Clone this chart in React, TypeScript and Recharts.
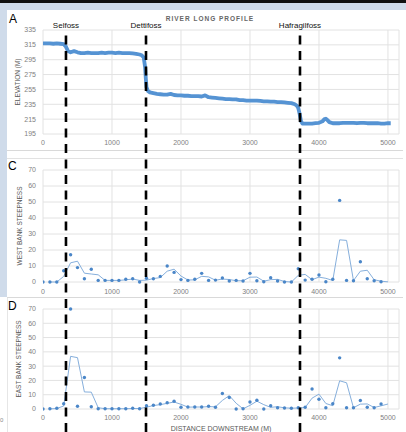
import React from 'react';
import { ComposedChart, Line, XAxis, YAxis, CartesianGrid, ReferenceLine } from 'recharts';

// ---------- data ----------
const profileDistance = [
  0, 50, 100, 150, 200, 250, 300, 330, 360, 400, 450, 500, 550, 600, 650, 700, 750, 800, 850, 900,
  950, 1000, 1050, 1100, 1150, 1200, 1250, 1300, 1350, 1400, 1430, 1460, 1480, 1490, 1500, 1520, 1550,
  1600, 1650, 1700, 1750, 1800, 1850, 1900, 1950, 2000, 2050, 2100, 2150, 2200, 2250, 2300, 2350, 2400,
  2450, 2500, 2550, 2600, 2650, 2700, 2750, 2800, 2850, 2900, 2950, 3000, 3050, 3100, 3150, 3200, 3250,
  3300, 3350, 3400, 3450, 3500, 3550, 3600, 3650, 3680, 3700, 3720, 3740, 3760, 3800, 3850, 3900, 3950,
  4000, 4050, 4080, 4100, 4120, 4150, 4200, 4250, 4300, 4350, 4400, 4450, 4500, 4550, 4600, 4650, 4700,
  4750, 4800, 4850, 4900, 4950, 5000, 5040,
];
const profileElevation = [
  317, 317, 317, 316.5, 317, 316.5, 316, 313, 307, 305, 306.5, 305, 304, 304, 304.5, 304, 304, 304, 304.5, 304,
  304.5, 304.5, 304, 304.5, 304, 304, 304, 303.5, 303, 302, 301, 298, 285, 270, 258, 253, 251,
  250, 249, 248.5, 248, 248, 249, 247.5, 247, 247, 246.5, 246.5, 246, 246, 246, 245.5, 247, 244.5,
  244, 243.5, 243, 242.5, 242, 242, 241.5, 241.5, 240.5, 240.5, 240, 240, 240, 240, 239.5, 239, 239,
  238.5, 238.5, 238, 238, 237.5, 237, 236.5, 235, 233, 230, 222, 212, 209, 209, 209, 209, 209.5,
  210, 212, 215, 215.5, 214, 211, 209.5, 209.5, 209.5, 210, 210, 210, 210, 209.5, 210, 210, 209.5,
  209.5, 209.5, 209.5, 209, 209, 209.5, 209.5,
];

const sampleDistance = [
  0, 100, 200, 300, 400, 500, 600, 700, 800, 900, 1000, 1100, 1200, 1300, 1400, 1500, 1600, 1700, 1800, 1900,
  2000, 2100, 2200, 2300, 2400, 2500, 2600, 2700, 2800, 2900, 3000, 3100, 3200, 3300, 3400, 3500, 3600, 3700,
  3800, 3900, 4000, 4100, 4200, 4300, 4400, 4500, 4600, 4700, 4800, 4900, 5000,
];
const westSteepness = [
  0, 0, 0, 7, 17, 9, 2, 8, 1, 1, 1, 1, 1.7, 2, 0, 2.3, 2, 3.5, 10, 6,
  1.5, 1, 1.7, 5.4, 1, 1.2, 2.5, 0.6, 1, 0.6, 5.4, 0.8, 0.2, 2.7, 0.6, 0, 0, 8.3,
  1.2, 1.7, 4.4, 0.2, 1.7, 51, 1, 0.8, 12.7, 2, 0.8, 0.2, null,
];
const westAverage = [
  null, 0, 0, 3.5, 12, 13, 5.5, 5, 4.5, 1, 1, 1, 1.35, 1.85, 1, 1.15, 2.15, 2.75, 6.75, 8,
  3.75, 1.25, 1.35, 3.55, 3.2, 1.1, 1.85, 1.55, 0.8, 0.8, 3, 3.1, 0.5, 1.45, 1.65, 0.3, 0, 4.15,
  4.75, 1.45, 3.05, 2.3, 0.95, 26.35, 26, 0.9, 6.75, 7.35, 1.4, 0.5, 0.1,
];
const eastSteepness = [
  0, 0.2, 0.5, 3.7, 70, 1.9, 22, 1.6, 0.2, 0.2, 0.2, 0.2, 0.2, 0.5, 0.2, 2.3, 2.6, 3.5, 4.4, 5.4,
  1.2, 1.4, 1.4, 1.4, 1.9, 1.2, 10.8, 8, 0, 0.2, 4.9, 6.1, 0, 2.3, 0.9, 0.7, 0.5, 0.9,
  1.2, 14, 6.8, 0.9, 3.7, 35.8, 0.9, 0.9, 5.9, 1.2, 0.9, 3.5, null,
];
const eastAverage = [
  null, 0.1, 0.35, 2.1, 36.85, 35.95, 11.95, 11.8, 0.9, 0.2, 0.2, 0.2, 0.2, 0.35, 0.35, 1.25, 2.45, 3.05, 3.95, 4.9,
  3.3, 1.3, 1.4, 1.4, 1.65, 1.55, 6, 9.4, 4, 0.1, 2.55, 5.5, 3.05, 1.15, 1.6, 0.8, 0.6, 0.7,
  1.05, 7.6, 10.4, 3.85, 2.3, 19.75, 18.35, 0.9, 3.4, 3.55, 1.05, 2.2, 3.5,
];

const waterfallNames = ['Selfoss', 'Dettifoss', 'Hafragilfoss'];
const waterfallDistance = [333, 1493, 3725];

const distanceTicks = [0, 1000, 2000, 3000, 4000, 5000];
const elevationTicks = [195, 215, 235, 255, 275, 295, 315, 335];
const steepnessTicks = [0, 10, 20, 30, 40, 50, 60, 70];

// ---------- tables ----------
const profileData = profileDistance.map((d, i) => ({ x: d, elevation: profileElevation[i] }));
const bankData = sampleDistance.map((d, i) => ({
  x: d,
  west: westSteepness[i],
  westAvg: westAverage[i],
  east: eastSteepness[i],
  eastAvg: eastAverage[i],
}));
const fallData = waterfallNames.map((n, i) => ({ name: n, x: waterfallDistance[i], level: 0.5 }));

// ---------- styles ----------
const W = 406;
const X_MAX = 5160;
const FONT = '"Liberation Sans", Arial, sans-serif';
const TICK = { fontSize: 7, fill: '#7f7f7f', fontFamily: FONT };
const GRID = '#e2e2e2';
const BLUE = '#5593d3';
const DOT = '#4a86c8';
const AVG = '#86afdc';
const AXIS_TITLE = { fontSize: 6.5, fill: '#595959', fontFamily: FONT, textAnchor: 'middle' as const };

const xAxisProps = (height: number, margin: number) => ({
  type: 'number' as const,
  dataKey: 'x',
  domain: [0, X_MAX] as [number, number],
  ticks: distanceTicks,
  allowDataOverflow: true,
  tickLine: false,
  axisLine: false,
  tickSize: 0,
  tickMargin: margin,
  height,
  tick: TICK,
  interval: 0 as const,
});

const abs = (s: React.CSSProperties): React.CSSProperties => ({ position: 'absolute', ...s });

export default function App() {
  return (
    <div style={abs({ left: 0, top: 0, width: W, height: 432, background: '#ffffff', overflow: 'hidden', fontFamily: FONT })}>
      {/* frame */}
      <div style={abs({ left: 0, top: 0, width: W, height: 3, background: '#111111' })} />
      <div style={abs({ left: 0, top: 3, width: W, height: 7, background: '#cfdbea' })} />
      <div style={abs({ left: 0, top: 3, width: 7, height: 294, background: '#cfdbea' })} />
      <div style={abs({ left: 7, top: 150, width: 396, height: 1, background: '#d9d9d9' })} />
      <div style={abs({ left: 7, top: 158, width: 396, height: 1, background: '#e2e2e2' })} />
      <div style={abs({ left: 7, top: 297, width: 396, height: 1, background: '#d9d9d9' })} />
      <div style={abs({ left: 7, top: 298, width: 1, height: 134, background: '#e6e6e6' })} />
      <div style={abs({ left: 0, top: 416, fontSize: 6, color: '#8a8a8a', lineHeight: '9px' })}>0</div>

      {/* Panel A */}
      <div style={abs({ left: 0, top: 0 })}>
        <ComposedChart width={W} height={150} data={profileData} margin={{ top: 30, right: 7, left: 0, bottom: 0 }}>
          <CartesianGrid stroke={GRID} />
          <XAxis {...xAxisProps(16, 6.5)} />
          <YAxis
            type="number"
            domain={[195, 335]}
            ticks={elevationTicks}
            width={43}
            tickLine={false}
            axisLine={false}
            tickSize={0}
            tickMargin={7}
            tick={TICK}
            interval={0}
            label={{ value: 'ELEVATION (M)', angle: -90, position: 'insideLeft', offset: 18, style: AXIS_TITLE }}
          />
          <Line dataKey="elevation" stroke={BLUE} strokeWidth={3.8} dot={false} isAnimationActive={false} strokeLinejoin="round" />
        </ComposedChart>
      </div>

      {/* Panel C */}
      <div style={abs({ left: 0, top: 150 })}>
        <ComposedChart width={W} height={147} data={bankData} margin={{ top: 20, right: 7, left: 0, bottom: 0 }}>
          <CartesianGrid stroke={GRID} />
          <XAxis {...xAxisProps(15, 7)} />
          <YAxis
            type="number"
            domain={[0, 70]}
            ticks={steepnessTicks}
            width={43}
            tickLine={false}
            axisLine={false}
            tickSize={0}
            tickMargin={7}
            tick={TICK}
            interval={0}
            label={{ value: 'WEST BANK STEEPNESS', angle: -90, position: 'insideLeft', offset: 20, style: AXIS_TITLE }}
          />
          <Line dataKey="westAvg" stroke={AVG} strokeWidth={1} dot={false} connectNulls isAnimationActive={false} />
          <Line dataKey="west" stroke="none" dot={{ r: 1.7, fill: DOT, stroke: 'none' }} isAnimationActive={false} />
        </ComposedChart>
      </div>

      {/* Panel D */}
      <div style={abs({ left: 0, top: 297 })}>
        <ComposedChart width={W} height={135} data={bankData} margin={{ top: 12, right: 7, left: 0, bottom: 0 }}>
          <CartesianGrid stroke={GRID} />
          <XAxis
            {...xAxisProps(23, 6)}
            label={{ value: 'DISTANCE DOWNSTREAM (M)', position: 'insideBottom', offset: 1.5, style: { ...AXIS_TITLE, fontSize: 7 } }}
          />
          <YAxis
            type="number"
            domain={[0, 70]}
            ticks={steepnessTicks}
            width={43}
            tickLine={false}
            axisLine={false}
            tickSize={0}
            tickMargin={7}
            tick={TICK}
            interval={0}
            label={{ value: 'EAST BANK STEEPNESS', angle: -90, position: 'insideLeft', offset: 18.5, style: AXIS_TITLE }}
          />
          <Line dataKey="eastAvg" stroke={AVG} strokeWidth={1} dot={false} connectNulls isAnimationActive={false} />
          <Line dataKey="east" stroke="none" dot={{ r: 1.7, fill: DOT, stroke: 'none' }} isAnimationActive={false} />
        </ComposedChart>
      </div>

      {/* Waterfall overlay */}
      <div style={abs({ left: 0, top: 0, pointerEvents: 'none' })}>
        <ComposedChart width={W} height={432} data={fallData} margin={{ top: 31, right: 7, left: 43, bottom: 0 }}>
          <XAxis type="number" dataKey="x" domain={[0, X_MAX]} hide allowDataOverflow />
          <YAxis type="number" domain={[0, 1]} hide />
          <Line dataKey="level" stroke="none" dot={false} isAnimationActive={false} />
          {fallData.map((f) => (
            <ReferenceLine
              key={f.name}
              x={f.x}
              ifOverflow="visible"
              stroke="#000000"
              strokeWidth={2.6}
              strokeDasharray="9 6.5"
              label={{ value: f.name, position: 'top', offset: 3, fill: '#111111', fontSize: 8, fontFamily: FONT }}
            />
          ))}
        </ComposedChart>
      </div>

      {/* titles */}
      <div style={abs({ left: 150, top: 15, width: 120, textAlign: 'center', fontSize: 6.5, fontWeight: 700, letterSpacing: 1, color: '#666666', lineHeight: '8px' })}>
        RIVER LONG PROFILE
      </div>
      <div style={abs({ left: 9, top: 12, fontSize: 12, color: '#000', lineHeight: '14px' })}>A</div>
      <div style={abs({ left: 8, top: 159, fontSize: 12, color: '#000', lineHeight: '14px' })}>C</div>
      <div style={abs({ left: 8, top: 299, fontSize: 12, color: '#000', lineHeight: '14px' })}>D</div>
    </div>
  );
}
